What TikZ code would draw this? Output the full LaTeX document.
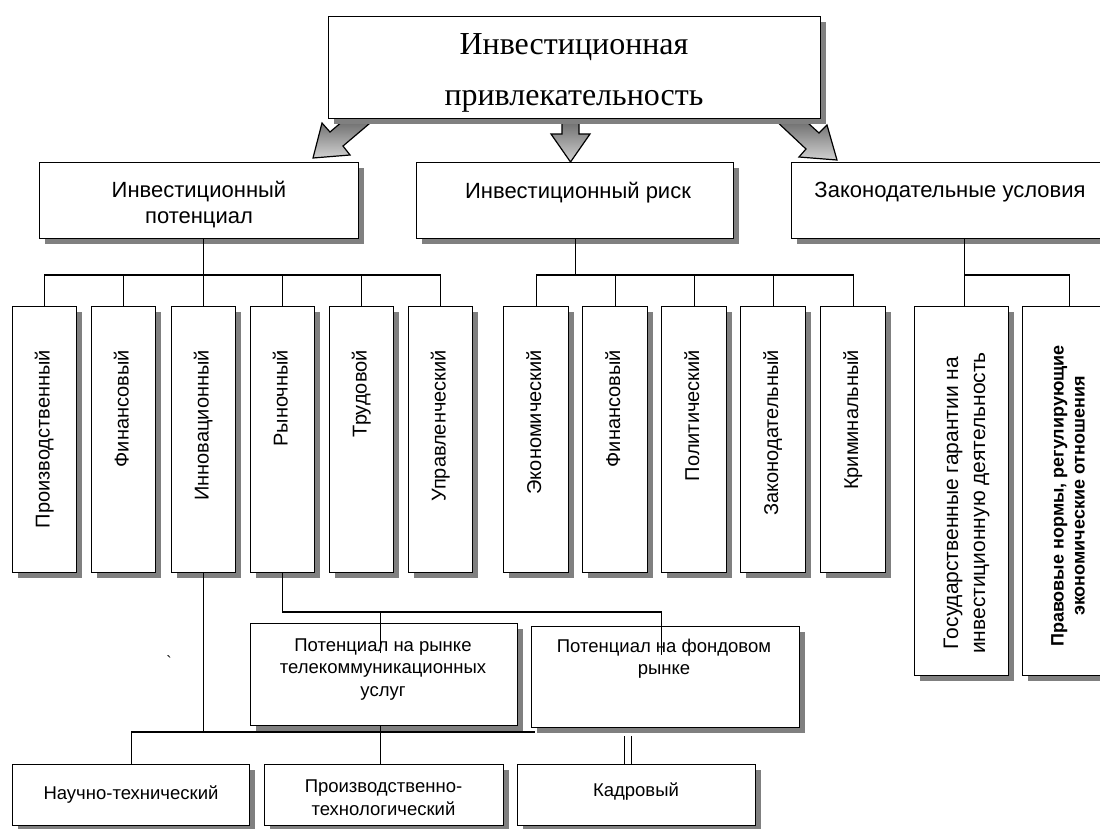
\documentclass[tikz,border=0pt]{standalone}
\usepackage{fontspec}
\setmainfont{Liberation Sans}
\newfontfamily\seriffont{Liberation Serif}
\usetikzlibrary{shadows}
\begin{document}
\begin{tikzpicture}[x=1pt,y=-1pt,
  box/.style={draw, line width=1.3pt, fill=white, inner sep=0pt,
    general shadow={fill=black!50, shadow xshift=5pt, shadow yshift=-5pt}},
  conn/.style={line width=1.2pt},
  blockarrow/.style={draw, line width=1.2pt, line join=miter, top color=black!60, bottom color=black!18},
  txt/.style={inner sep=0pt, align=center},
  lvtwo/.style={txt, font=\fontsize{22}{26}\selectfont},
  lowtxt/.style={txt, font=\fontsize{18.5}{22.5}\selectfont},
  vtxt/.style={inner sep=0pt, rotate=90, anchor=base east, font=\fontsize{20}{24}\selectfont},
]
\useasboundingbox (0,0) rectangle (1100,828);
\clip (0,0) rectangle (1100,828);

% block arrows (drawn first, partly hidden by the top box)
\path[blockarrow] (346.5,118) -- (330,132) -- (322,123) -- (313,158) -- (350,155) -- (343,146) -- (376,118) -- cycle;
\path[blockarrow] (562,118) -- (562,134) -- (551,134) -- (570.5,162) -- (590,134) -- (579,134) -- (579,118) -- cycle;
\path[blockarrow] (802.5,118) -- (819,133) -- (827,125) -- (837,160) -- (799,157) -- (806,149) -- (773,118) -- cycle;

% top box
\node[box, anchor=north west, minimum width=492pt, minimum height=102pt] (top) at (328,16) {};
\node[txt, font=\seriffont\fontsize{32}{51}\selectfont] (toptxt) at (574,72.5) {Инвестиционная\\привлекательность};

% level 2
\node[box, anchor=north west, minimum width=319pt, minimum height=76pt] (pot) at (39,162) {};
\node[lvtwo] (pottxt) at (199,205) {Инвестиционный\\потенциал};
\node[box, anchor=north west, minimum width=317pt, minimum height=76pt] (risk) at (416,162) {};
\node[lvtwo] (risktxt) at (578,192.5) {Инвестиционный риск};
\node[box, anchor=north west, minimum width=318pt, minimum height=76pt] (law) at (791,162) {};
\node[lvtwo] (lawtxt) at (950,192.5) {Законодательные условия};

% level 3 : potential
\foreach \i/\x/\t in {1/12/Производственный, 2/91/Финансовый, 3/171/Инновационный,
                      4/250/Рыночный, 5/329/Трудовой, 6/408/Управленческий}{
  \node[box, anchor=north west, minimum width=64pt, minimum height=266pt] (p\i) at (\x,306) {};
  \node[vtxt] (pt\i) at ([xshift=5pt]p\i.north |- 0,350) {\t};
}
% level 3 : risk
\foreach \i/\x/\t in {1/503/Экономический, 2/582/Финансовый, 3/661/Политический,
                      4/740/Законодательный, 5/820/Криминальный}{
  \node[box, anchor=north west, minimum width=65pt, minimum height=266pt] (r\i) at (\x,306) {};
  \node[vtxt] (rt\i) at ([xshift=5pt]r\i.north |- 0,350) {\t};
}
% level 3 : legal
\node[box, anchor=north west, minimum width=94pt, minimum height=369pt] (l1) at (914,306) {};
\node[txt, rotate=90, font=\fontsize{21}{27}\selectfont] (l1txt) at (966.5,503) {Государственные гарантии на\\инвестиционную деятельность};
\node[box, anchor=north west, minimum width=94pt, minimum height=369pt] (l2) at (1022,306) {};
\node[txt, rotate=90, font=\bfseries\fontsize{18}{21}\selectfont] (l2txt) at (1068,496) {Правовые нормы, регулирующие\\экономические отношения};

% bottom part
\node[box, anchor=north west, minimum width=267pt, minimum height=102pt] (tel) at (250,623) {};
\node[lowtxt] (teltxt) at (383,669.5) {Потенциал на рынке\\телекоммуникационных\\услуг};
\node[box, anchor=north west, minimum width=268pt, minimum height=101pt] (fond) at (531,626) {};
\node[lowtxt] (fondtxt) at (664,658.5) {Потенциал на фондовом\\рынке};

\node[box, anchor=north west, minimum width=237pt, minimum height=61pt] (nt) at (12,764) {};
\node[lowtxt] (nttxt) at (131,795) {Научно-технический};
\node[box, anchor=north west, minimum width=239pt, minimum height=61pt] (pr) at (264,764) {};
\node[lowtxt] (prtxt) at (383.5,797.5) {Производственно-\\технологический};
\node[box, anchor=north west, minimum width=238pt, minimum height=61pt] (kad) at (517,764) {};
\node[lowtxt] (kadtxt) at (636,792) {Кадровый};

\node[inner sep=0pt, font=\fontsize{16}{16}\selectfont] (tick) at (169,662) {\textasciigrave};

% connectors level 2 -> level 3
\coordinate (bus) at (0,275);
\draw[conn] (p3.north |- pot.south) -- (p3.north |- bus);
\draw[conn] (p1.north) -- (p1.north |- bus) -- (p6.north |- bus) -- (p6.north);
\foreach \i in {2,...,5} \draw[conn] (p\i.north) -- (p\i.north |- bus);

\draw[conn] (risk.south) -- (risk.south |- bus);
\draw[conn] (r1.north) -- (r1.north |- bus) -- (r5.north |- bus) -- (r5.north);
\foreach \i in {2,...,4} \draw[conn] (r\i.north) -- (r\i.north |- bus);

\draw[conn] ([xshift=3pt]l1.north |- law.south) -- ([xshift=3pt]l1.north |- bus);
\draw[conn] ([xshift=3pt]l1.north) -- ([xshift=3pt]l1.north |- bus) -- (l2.north |- bus) -- (l2.north);

% Рыночный -> two potentials
\coordinate (mbus) at (0,612);
\draw[conn] (p4.south) -- (p4.south |- mbus) -- ([xshift=-4pt]fond.north |- mbus) -- ([xshift=-4pt,yshift=-29pt]fond.north);
\draw[conn] ([xshift=-4pt]tel.north |- mbus) -- ([xshift=-4pt,yshift=-30pt]tel.north);

% Инновационный -> bottom boxes
\coordinate (ibus) at (0,732);
\draw[conn] (p3.south) -- (p3.south |- ibus);
\draw[conn] (nt.north) -- (nt.north |- ibus) -- ([xshift=4pt]fond.south west |- ibus);
\draw[conn] ([xshift=-4pt]tel.south) -- ([xshift=-4pt]tel.south |- pr.north);
\draw[conn] ([xshift=-12pt]kad.north) -- ([xshift=-12pt,yshift=-8pt]kad.north |- fond.south);
\draw[conn] ([xshift=-5pt]kad.north) -- ([xshift=-5pt,yshift=-8pt]kad.north |- fond.south);
\end{tikzpicture}
\end{document}
